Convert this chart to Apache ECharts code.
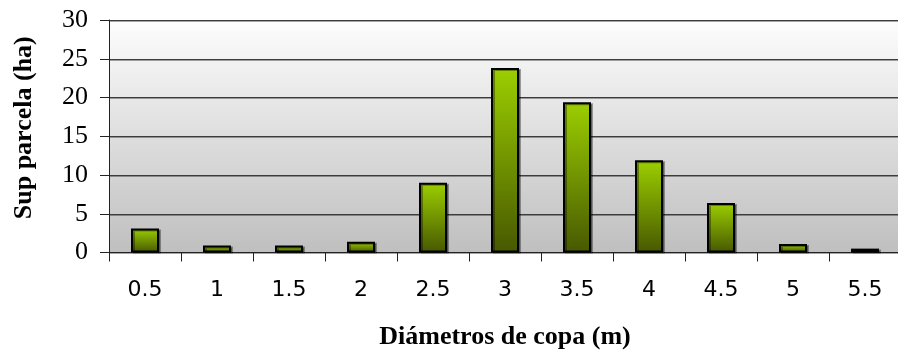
<!DOCTYPE html>
<html>
<head>
<meta charset="utf-8">
<script src="https://cdn.jsdelivr.net/npm/echarts@6/dist/echarts.min.js"></script>
<style>
  html, body { margin: 0; padding: 0; background: #fff; }
  #chart { width: 898px; height: 353px; }
</style>
</head>
<body>
<div id="chart"></div>
<script>
// Crown diameter classes (m) and plot surface per class (ha)
const diameters = ['0.5', '1', '1.5', '2', '2.5', '3', '3.5', '4', '4.5', '5', '5.5'];
const surface = [3.1, 0.9, 0.9, 1.4, 9.0, 23.8, 19.4, 11.9, 6.4, 1.1, 0.5];
const yTicks = { min: 0, max: 30, step: 5 };

const chart = echarts.init(document.getElementById('chart'), null, { renderer: 'canvas' });

chart.setOption({
  animation: false,
  grid: {
    left: 109, top: 20, right: -3, bottom: 100.5,
    outerBoundsMode: 'none',
    containLabel: false,
    show: true,
    borderWidth: 0,
    backgroundColor: new echarts.graphic.LinearGradient(0, 0, 0, 1, [
      { offset: 0, color: '#fdfdfd' },
      { offset: 1, color: '#bfbfbf' }
    ])
  },
  xAxis: {
    type: 'category',
    data: diameters,
    boundaryGap: true,
    name: 'Diámetros de copa (m)',
    nameLocation: 'middle',
    nameGap: 72,
    nameTextStyle: { fontFamily: 'Liberation Serif', fontWeight: 'bold', fontSize: 26, color: '#000' },
    axisLine: { lineStyle: { color: '#222', width: 1 } },
    axisTick: { show: true, alignWithLabel: false, length: 9, lineStyle: { color: '#222' } },
    axisLabel: { fontFamily: 'DejaVu Sans', fontSize: 22, color: '#000', margin: 27 },
    splitLine: { show: false }
  },
  yAxis: {
    type: 'value',
    min: yTicks.min, max: yTicks.max, interval: yTicks.step,
    name: 'Sup parcela (ha)',
    nameLocation: 'middle',
    nameGap: 72,
    nameRotate: 90,
    nameTextStyle: { fontFamily: 'Liberation Serif', fontWeight: 'bold', fontSize: 26, color: '#000', padding: [0, 0, 0, 17] },
    axisLine: { show: true, lineStyle: { color: '#222', width: 1 } },
    axisTick: { show: true, length: 9, lineStyle: { color: '#222' } },
    axisLabel: { fontFamily: 'Liberation Serif', fontSize: 26, color: '#000', margin: 21 },
    splitLine: {
      show: true,
      lineStyle: { color: '#3c3c3c', width: 1, shadowColor: 'rgba(0,0,0,0.35)', shadowOffsetY: 1, shadowBlur: 0 }
    }
  },
  series: [{
    type: 'bar',
    data: surface,
    barWidth: 28,
    itemStyle: {
      color: new echarts.graphic.LinearGradient(0, 0, 0, 1, [
        { offset: 0, color: '#9ccf00' },
        { offset: 1, color: '#475800' }
      ]),
      borderColor: '#000',
      borderWidth: 2,
      shadowColor: 'rgba(0,0,0,0.35)',
      shadowOffsetX: 2,
      shadowOffsetY: 1,
      shadowBlur: 0
    }
  }]
});
</script>
</body>
</html>
